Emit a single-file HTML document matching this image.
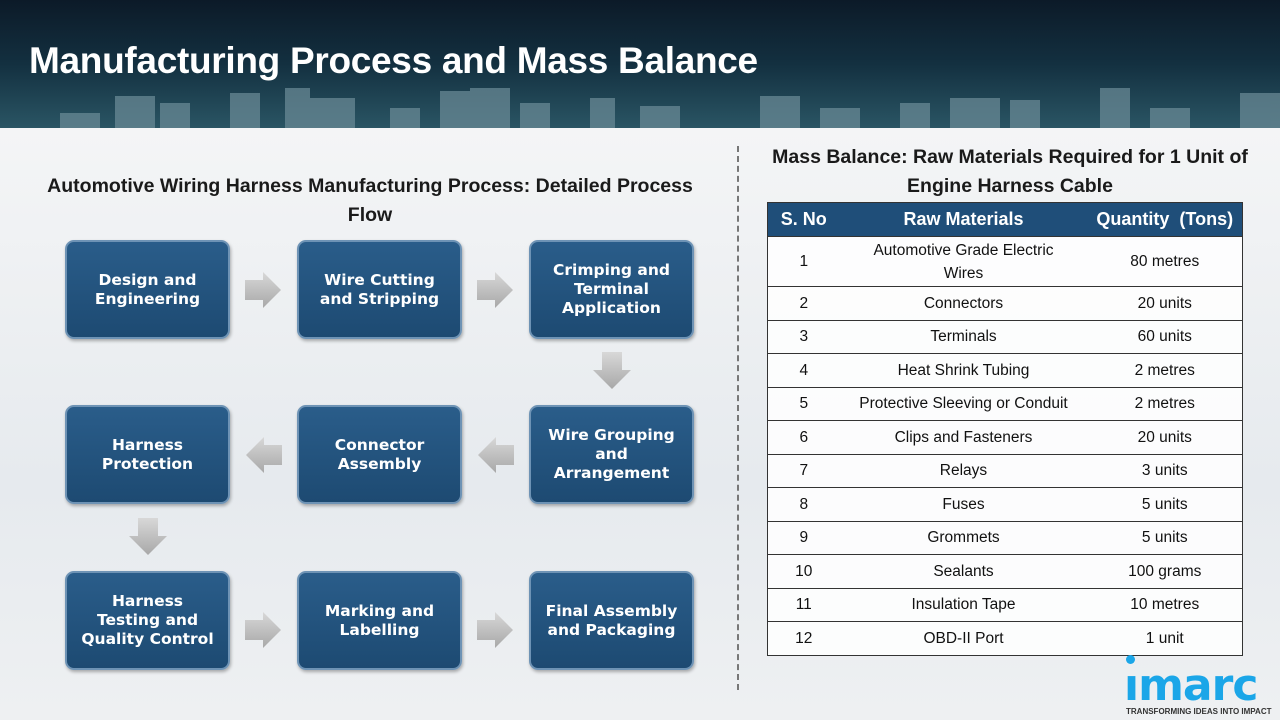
<!DOCTYPE html>
<html><head><meta charset="utf-8"><style>
*{margin:0;padding:0;box-sizing:border-box}
body{width:1280px;height:720px;overflow:hidden;position:relative;background:#eef0f2;font-family:"Liberation Sans",sans-serif}
.hdr{position:absolute;left:0;top:0;width:1280px;height:128px;background:linear-gradient(180deg,#0c1a28 0%,#133040 50%,#2a5564 100%)}
.hdr h1{position:absolute;left:29px;top:40px;color:#fff;font-size:37px;font-weight:bold;letter-spacing:-0.3px}
.city{position:absolute;left:0;bottom:0;width:1280px;height:40px}
.bg{position:absolute;left:0;top:128px;width:1280px;height:592px;background:linear-gradient(180deg,#f4f5f6,#e6eaee 60%,#eef0f2)}
.box{position:absolute;width:165px;height:99px;background:linear-gradient(180deg,#2a5d8a,#1d4a72);border:2px solid #6e93b5;border-radius:9px;color:#fff;font-family:"DejaVu Sans",sans-serif;font-weight:bold;font-size:15.5px;display:flex;align-items:center;justify-content:center;text-align:center;line-height:19px;box-shadow:1px 2px 3px rgba(0,0,0,.3)}
.st{position:absolute;font-weight:bold;color:#1a1a1a;font-size:19.5px;text-align:center;line-height:29px}
table{position:absolute;left:767px;top:202px;width:476px;border-collapse:collapse;font-size:15.5px;color:#111;background:rgba(255,255,255,.85)}
th{background:#1f4e79;color:#fff;height:34px;font-size:18px;font-weight:bold}
td{text-align:center;border-top:1px solid #333;height:33.5px;line-height:23px}
table{border:1px solid #333}
</style></head><body>
<div class="hdr"><h1>Manufacturing Process and Mass Balance</h1>
<svg class="city" viewBox="0 0 1280 40" preserveAspectRatio="none"><g fill="#6d8d99" opacity=".7">
<rect x="60" y="25" width="40" height="15"/><rect x="115" y="8" width="40" height="32"/><rect x="160" y="15" width="30" height="25"/><rect x="230" y="5" width="30" height="35"/><rect x="285" y="0" width="25" height="40"/><rect x="310" y="10" width="45" height="30"/><rect x="390" y="20" width="30" height="20"/><rect x="440" y="3" width="35" height="37"/><rect x="470" y="0" width="40" height="40"/><rect x="520" y="15" width="30" height="25"/><rect x="590" y="10" width="25" height="30"/><rect x="640" y="18" width="40" height="22"/><rect x="760" y="8" width="40" height="32"/><rect x="820" y="20" width="40" height="20"/><rect x="900" y="15" width="30" height="25"/><rect x="950" y="10" width="50" height="30"/><rect x="1010" y="12" width="30" height="28"/><rect x="1100" y="0" width="30" height="40"/><rect x="1150" y="20" width="40" height="20"/><rect x="1240" y="5" width="40" height="35"/></g></svg></div>
<div class="bg"></div>
<div style="position:absolute;left:737px;top:146px;height:544px;border-left:2px dashed #777"></div>
<div class="st" style="left:25px;top:172px;width:690px">Automotive Wiring Harness Manufacturing Process: Detailed Process Flow</div>
<div class="st" style="left:745px;top:143px;width:530px">Mass Balance: Raw Materials Required for 1 Unit of Engine Harness Cable</div>

<div class="box" style="left:65px;top:240px">Design and<br>Engineering</div>
<div class="box" style="left:297px;top:240px">Wire Cutting<br>and Stripping</div>
<div class="box" style="left:529px;top:240px">Crimping and<br>Terminal<br>Application</div>
<div class="box" style="left:65px;top:405px">Harness<br>Protection</div>
<div class="box" style="left:297px;top:405px">Connector<br>Assembly</div>
<div class="box" style="left:529px;top:405px">Wire Grouping<br>and<br>Arrangement</div>
<div class="box" style="left:65px;top:571px">Harness<br>Testing and<br>Quality Control</div>
<div class="box" style="left:297px;top:571px">Marking and<br>Labelling</div>
<div class="box" style="left:529px;top:571px">Final Assembly<br>and Packaging</div>

<svg style="position:absolute;left:0;top:0" width="740" height="720"><defs><linearGradient id="g" x1="0" y1="0" x2="0" y2="1"><stop offset="0" stop-color="#d8d8d8"/><stop offset="1" stop-color="#a8a8a8"/></linearGradient></defs>
<g fill="url(#g)">
<polygon points="245,280 263,280 263,272 281,290 263,308 263,300 245,300"/>
<polygon points="477,280 495,280 495,272 513,290 495,308 495,300 477,300"/>
<polygon points="245,620 263,620 263,612 281,630 263,648 263,640 245,640"/>
<polygon points="477,620 495,620 495,612 513,630 495,648 495,640 477,640"/>
<polygon points="514,445 496,445 496,437 478,455 496,473 496,465 514,465"/>
<polygon points="282,445 264,445 264,437 246,455 264,473 264,465 282,465"/>
<polygon points="602,352 622,352 622,370 631,370 612,389 593,370 602,370"/>
<polygon points="138,518 158,518 158,536 167,536 148,555 129,536 138,536"/>
</g></svg>

<table>
<tr><th style="width:72px">S. No</th><th style="width:248px">Raw Materials</th><th>Quantity&nbsp; (Tons)</th></tr>
<tr><td style="height:50px">1</td><td style="padding:0 18px">Automotive Grade Electric Wires</td><td>80 metres</td></tr>
<tr><td style="height:32px">2</td><td>Connectors</td><td>20 units</td></tr>
<tr><td style="height:32px">3</td><td>Terminals</td><td>60 units</td></tr>
<tr><td>4</td><td>Heat Shrink Tubing</td><td>2 metres</td></tr>
<tr><td>5</td><td>Protective Sleeving or Conduit</td><td>2 metres</td></tr>
<tr><td>6</td><td>Clips and Fasteners</td><td>20 units</td></tr>
<tr><td>7</td><td>Relays</td><td>3 units</td></tr>
<tr><td>8</td><td>Fuses</td><td>5 units</td></tr>
<tr><td>9</td><td>Grommets</td><td>5 units</td></tr>
<tr><td>10</td><td>Sealants</td><td>100 grams</td></tr>
<tr><td>11</td><td>Insulation Tape</td><td>10 metres</td></tr>
<tr><td>12</td><td>OBD-II Port</td><td>1 unit</td></tr>
</table>

<div style="position:absolute;left:1126px;top:655px;width:9px;height:9px;border-radius:50%;background:#1ba6e8"></div>
<div style="position:absolute;left:1124px;top:660px;font-size:44px;font-weight:bold;color:#1ba6e8;letter-spacing:-1px;font-family:'DejaVu Sans',sans-serif">ımarc</div>
<div style="position:absolute;left:1126px;top:707px;font-size:8px;font-weight:bold;color:#333">TRANSFORMING IDEAS INTO IMPACT</div>
</body></html>
